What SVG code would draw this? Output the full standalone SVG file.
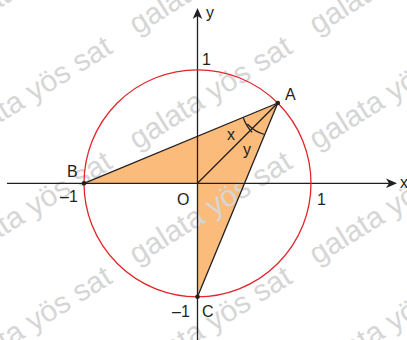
<svg xmlns="http://www.w3.org/2000/svg" width="407" height="340" viewBox="0 0 407 340">
<style>
.wm{font-family:"Liberation Sans",Arial,sans-serif;font-size:30px;fill:#d6d6d6}
.ax{stroke:#231f20;stroke-width:1.3;fill:none}
.edge{stroke:#231f20;stroke-width:1.3;fill:none}
.arc{stroke:#231f20;stroke-width:1.2;fill:none}
.lbl{font-family:"Liberation Sans",Arial,sans-serif;font-size:16px;fill:#231f20}
.dot{fill:#231f20}
</style>
<defs>
<marker id="arrow" markerUnits="userSpaceOnUse" viewBox="0 0 11 10" markerWidth="11" markerHeight="10" refX="3" refY="5" orient="auto">
<path d="M0,0.2 L11,5 L0,9.8 L3,5 Z" fill="#231f20"/>
</marker>
</defs>
<rect width="407" height="340" fill="#ffffff"/>
<g id="region">
<polygon points="84,183.3 277.8,103 197.5,296.8 197.5,183.3" fill="#fbbb7a"/>
</g>
<g id="watermark">
<text class="wm" transform="translate(-43,35) rotate(-32)">galata yös sat</text>
<text class="wm" transform="translate(137,35) rotate(-32)">galata yös sat</text>
<text class="wm" transform="translate(317,35) rotate(-32)">galata yös sat</text>
<text class="wm" transform="translate(-43,150) rotate(-32)">galata yös sat</text>
<text class="wm" transform="translate(137,150) rotate(-32)">galata yös sat</text>
<text class="wm" transform="translate(317,150) rotate(-32)">galata yös sat</text>
<text class="wm" transform="translate(-43,265) rotate(-32)">galata yös sat</text>
<text class="wm" transform="translate(137,265) rotate(-32)">galata yös sat</text>
<text class="wm" transform="translate(317,265) rotate(-32)">galata yös sat</text>
<text class="wm" transform="translate(-43,380) rotate(-32)">galata yös sat</text>
<text class="wm" transform="translate(137,380) rotate(-32)">galata yös sat</text>
<text class="wm" transform="translate(317,380) rotate(-32)">galata yös sat</text>
</g>
<g id="axes">
<line class="ax" x1="7" y1="183.3" x2="389" y2="183.3" marker-end="url(#arrow)"/>
<line class="ax" x1="197.5" y1="340" x2="197.5" y2="16" marker-end="url(#arrow)"/>
<text class="lbl" x="400" y="188">x</text>
<text class="lbl" x="206" y="18">y</text>
<text class="lbl" x="202" y="65">1</text>
<text class="lbl" x="317" y="205">1</text>
<text class="lbl" x="60" y="202">–1</text>
<text class="lbl" x="172" y="317">–1</text>
</g>
<g id="unit-circle">
<circle cx="197.5" cy="183.3" r="113.5" fill="none" stroke="#e3242b" stroke-width="1.3"/>
</g>
<g id="connectors">
<line class="edge" x1="84" y1="183.3" x2="277.8" y2="103"/>
<line class="edge" x1="277.8" y1="103" x2="197.5" y2="296.8"/>
<line class="edge" x1="277.8" y1="103" x2="197.5" y2="183.3"/>
<path class="arc" d="M243.3,117.7 A38 38 0 0 0 252.2,132.3"/>
<path class="arc" d="M247.4,124 A36 36 0 0 0 264.5,134.5"/>
<text class="lbl" x="227" y="140">x</text>
<text class="lbl" x="243" y="155">y</text>
</g>
<g id="node-A">
<circle class="dot" cx="277.8" cy="103" r="2.3"/>
<text class="lbl" x="285" y="100">A</text>
</g>
<g id="node-B">
<circle class="dot" cx="84" cy="183.3" r="2.3"/>
<text class="lbl" x="67" y="177">B</text>
</g>
<g id="node-C">
<circle class="dot" cx="197.5" cy="296.8" r="2.3"/>
<text class="lbl" x="202" y="317">C</text>
</g>
<g id="node-O">
<text class="lbl" x="177" y="205">O</text>
</g>
</svg>
